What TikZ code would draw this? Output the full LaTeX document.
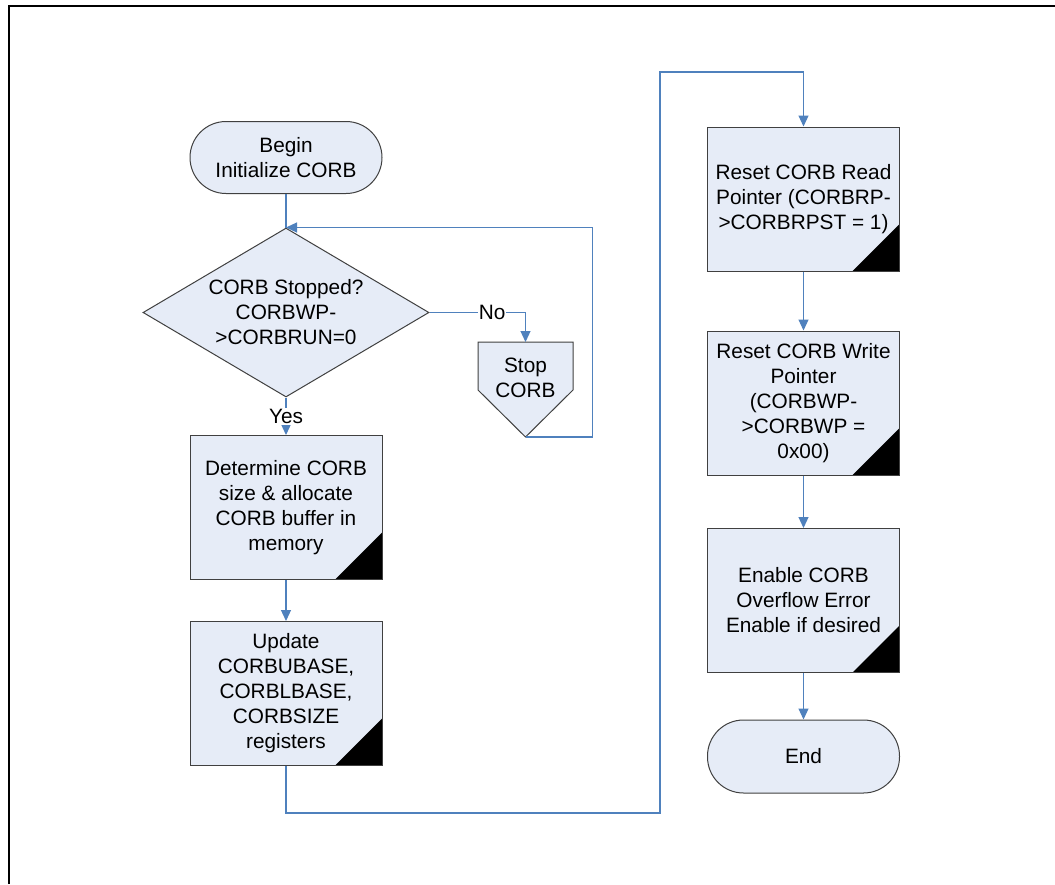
\documentclass[tikz,border=0pt]{standalone}
\usepackage{fontspec}
\setmainfont{Liberation Sans}
\usetikzlibrary{arrows.meta,shapes.geometric}
\definecolor{boxfill}{RGB}{230,236,247}
\definecolor{flowblue}{RGB}{79,129,189}
\definecolor{edgegray}{RGB}{64,64,64}
\pgfdeclarelayer{background}
\pgfsetlayers{background,main}
\begin{document}
\begin{tikzpicture}[x=1pt,y=-1pt,
  every node/.style={font=\fontsize{20.8pt}{25pt}\selectfont, align=center},
  shapebase/.style={draw=edgegray, line width=1pt, fill=boxfill, inner sep=0pt},
  terminal/.style={shapebase, rectangle, minimum width=192pt, minimum height=72pt, rounded corners=36pt},
  process/.style={shapebase, rectangle, minimum width=192pt, minimum height=144pt,
    path picture={\fill[black] (path picture bounding box.south east)
      -- ([xshift=-47pt]path picture bounding box.south east)
      -- ([yshift=47pt]path picture bounding box.south east) -- cycle;}},
  decision/.style={shapebase, diamond, minimum width=286pt, minimum height=169pt},
  flow/.style={draw=flowblue, line width=1.2pt},
  arrowflow/.style={flow, -{Triangle[length=11pt,width=10pt]}},
  tag/.style={fill=white, inner sep=1pt}
]
\useasboundingbox (0,0) rectangle (1055,884);

% page frame (open to the right and bottom)
\draw[line width=2pt] (9,884) -- (9,6) -- (1055,6);

% left column
\node[terminal] (begin) at (286,157.5) {Begin\\Initialize CORB};
\node[decision, label={[align=center]center:{CORB Stopped?\\CORBWP-\\>CORBRUN=0}}] (check) at (286,312.5) {};
\node[rectangle, inner sep=0pt, outer sep=0pt, minimum width=95pt, minimum height=95pt,
      label={[align=center, yshift=12pt]center:{Stop\\CORB}}] (stop) at (525.5,389.5) {};
\begin{pgfonlayer}{background}
  \fill[white] (0,0) rectangle (1055,884);
  % off-page connector outline behind its text
  \path[shapebase] (stop.north west) -- (stop.north east)
    -- ([yshift=47pt]stop.south east) -- (stop.south)
    -- ([yshift=47pt]stop.south west) -- cycle;
\end{pgfonlayer}
\node[process] (alloc) at (286,507.5) {Determine CORB\\size \& allocate\\CORB buffer in\\memory};
\node[process] (update) at (286,693.5) {Update\\CORBUBASE,\\CORBLBASE,\\CORBSIZE\\registers};

% right column
\node[process] (rdptr) at (803.5,199) {Reset CORB Read\\Pointer (CORBRP-\\>CORBRPST = 1)};
\node[process] (wrptr) at (803.5,403) {Reset CORB Write\\Pointer\\(CORBWP-\\>CORBWP =\\0x00)};
\node[process] (ovfl) at (803.5,600.5) {Enable CORB\\Overflow Error\\Enable if desired};
\node[terminal, minimum height=73pt] (finish) at (803.5,756.5) {End};

% connectors
\draw[flow] (begin.south) -- (check.north);
\draw[arrowflow] (check.east) -| node[tag, pos=0.326] {No} (stop.north);
\draw[arrowflow] (stop.south) -- ++(67,0) |- (check.north);
\draw[arrowflow] (check.south) -- node[tag] {Yes} (alloc.north);
\draw[arrowflow] (alloc.south) -- (update.north);
\coordinate (busA) at (660,813);
\coordinate (busB) at (660,72);
\draw[arrowflow] (update.south) |- (busA) -- (busB) -| (rdptr.north);
\draw[arrowflow] (rdptr.south) -- (wrptr.north);
\draw[arrowflow] (wrptr.south) -- (ovfl.north);
\draw[arrowflow] (ovfl.south) -- (finish.north);
\end{tikzpicture}
\end{document}
